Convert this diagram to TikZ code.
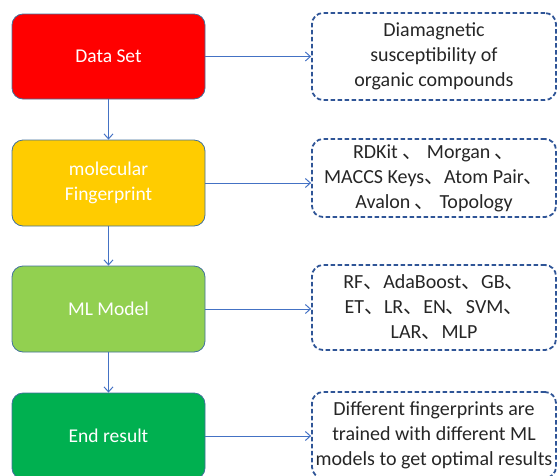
\documentclass[tikz,border=0pt]{standalone}
\usepackage{fontspec}
\setmainfont{Carlito}
\newfontfamily\cjk{Noto Sans CJK SC}
\usepackage{tikz}
\usetikzlibrary{arrows.meta}
\usepackage{xcolor}

\definecolor{boxred}{HTML}{FF0000}
\definecolor{boxyellow}{HTML}{FFCC00}
\definecolor{boxlime}{HTML}{92D050}
\definecolor{boxgreen}{HTML}{00B050}
\definecolor{boxedge}{HTML}{41719C}
\definecolor{arrowblue}{HTML}{4472C4}
\definecolor{dashblue}{HTML}{2F5597}

\newcommand{\dun}{{\cjk 、}}

\tikzset{
  stage/.style={draw=boxedge, line width=0.8pt, rounded corners=11pt,
    minimum width=193pt, minimum height=86pt, inner sep=0pt,
    text=white, align=center, font=\fontsize{19.5}{25}\selectfont},
  info/.style={draw=dashblue, line width=1.8pt, dash pattern=on 4.5pt off 2.5pt,
    rounded corners=11pt, minimum width=244pt, inner sep=0pt,
    text=black!85, align=center, font=\fontsize{20}{25}\selectfont},
  link/.style={draw=arrowblue, line width=1pt, -{Straight Barb[length=5pt,width=9pt]}}
}

\begin{document}
\begin{tikzpicture}[x=1pt,y=-1pt]
        \useasboundingbox (0,0) rectangle (558,475);

        % left column
        \node[stage, fill=boxred, minimum height=85pt] (data) at (108.5,56.5) {Data Set};
        \node[stage, fill=boxyellow] (fp) at (108.5,183) {molecular\\Fingerprint};
        \node[stage, fill=boxlime] (ml) at (108.5,309) {ML Model};
        \node[stage, fill=boxgreen] (res) at (108.5,436) {End result};

        % right column
        \node[info, minimum height=87pt] (datainfo) at (434,56.5)
          {Diamagnetic\\susceptibility of\\organic compounds};
        \node[info, minimum height=78pt] (fpinfo) at (434,178)
          {RDKit \dun{} Morgan \dun\\MACCS Keys\dun{}Atom Pair\dun\\Avalon \dun{} Topology};
        \node[info, minimum height=85pt] (mlinfo) at (434,307.5)
          {RF\dun{}AdaBoost\dun{}GB\dun\\ET\dun{}LR\dun{}EN\dun{}SVM\dun\\LAR\dun{}MLP};
        \node[info, minimum height=86pt] (resinfo) at (434,435)
          {Different fingerprints are\\trained with different ML\\models to get optimal results};

        % connectors
        \draw[link] (data) -- (fp);
        \draw[link] (fp) -- (ml);
        \draw[link] (ml) -- (res);
        \draw[link] (data.east) -- (data.east -| datainfo.west);
        \draw[link] (fp.east) -- (fp.east -| fpinfo.west);
        \draw[link] (ml.east) -- (ml.east -| mlinfo.west);
        \draw[link] (res.east) -- (res.east -| resinfo.west);
    \end{tikzpicture}
\end{document}
